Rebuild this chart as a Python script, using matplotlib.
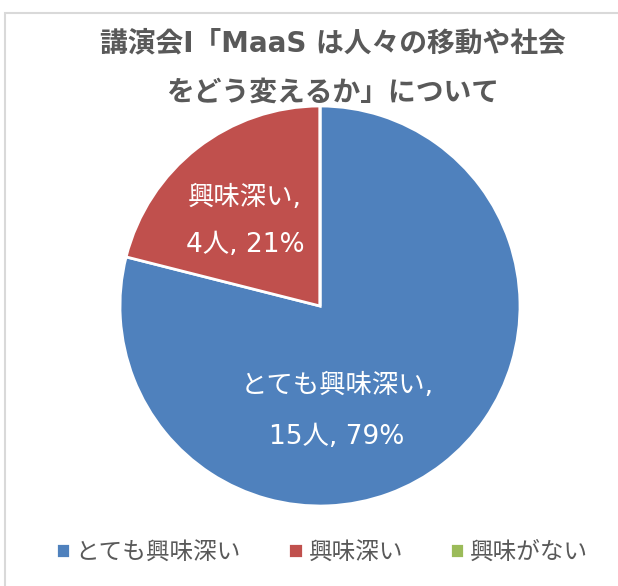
import matplotlib.pyplot as plt
from matplotlib.patches import Rectangle

plt.rcParams['font.family'] = ['DejaVu Sans', 'Noto Sans CJK JP']

# ── Data ──────────────────────────────────────────────────────────────
categories = ["とても興味深い", "興味深い", "興味がない"]
counts = [15, 4, 0]
colors = ["#4F81BD", "#C0504D", "#9BBB59"]
title = "講演会I「MaaS は人々の移動や社会\nをどう変えるか」について"

GRAY = "#595959"
total = sum(counts)

fig = plt.figure(figsize=(6.18, 5.86), dpi=100)

# chart frame
fig.patches.append(Rectangle((5 / 618, -0.1), 1.2, 1 - 13 / 586 + 0.1,
                             transform=fig.transFigure, fill=False,
                             edgecolor="#d9d9d9", linewidth=1.5))

ax = fig.add_axes([120 / 618, 1 - 506 / 586, 400 / 618, 400 / 586])
wedges, _ = ax.pie(counts, colors=colors, startangle=90, counterclock=False,
                   radius=1, wedgeprops=dict(edgecolor="white", linewidth=2))
ax.set_xlim(-1, 1)
ax.set_ylim(-1, 1)
ax.set_aspect("equal")
ax.axis("off")

# data labels (Excel-style placement)
label_pos = {0: (0.085, -0.40, -0.655), 1: (-0.375, 0.54, 0.305)}
for i, (x, y1, y2) in label_pos.items():
    pct = round(counts[i] / total * 100)
    ax.text(x, y1, f"{categories[i]},", ha="center", va="center",
            color="white", fontsize=19)
    ax.text(x, y2, f"{counts[i]}人, {pct}%", ha="center", va="center",
            color="white", fontsize=19)

# title
lines = title.split("\n")
fig.text(333 / 618, 1 - 43 / 586, lines[0], ha="center", va="center",
         fontsize=20, fontweight="bold", color=GRAY)
fig.text(333 / 618, 1 - 93 / 586, lines[1], ha="center", va="center",
         fontsize=20, fontweight="bold", color=GRAY)

fig.legend(wedges, categories, loc="center", bbox_to_anchor=(322 / 618, 1 - 552 / 586),
           ncol=3, frameon=False, fontsize=17, labelcolor=GRAY,
           handlelength=0.6, handleheight=0.6, handletextpad=0.25, columnspacing=2.0)

fig.savefig("out.png", dpi=100)
